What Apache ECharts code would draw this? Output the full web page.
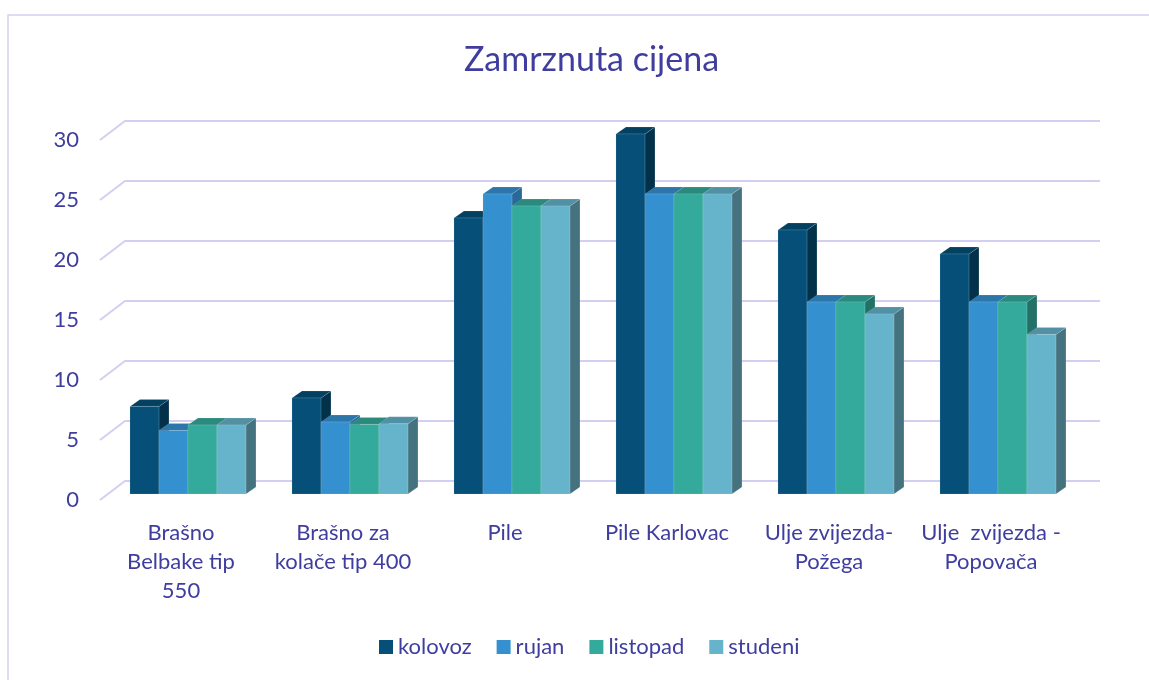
<!DOCTYPE html>
<html>
<head>
<meta charset="utf-8">
<script src="https://cdn.jsdelivr.net/npm/echarts@6/dist/echarts.min.js"></script>
<style>
  html, body { margin: 0; padding: 0; background: #fff; }
  #chart { width: 1149px; height: 680px; }
</style>
</head>
<body>
<div id="chart"></div>
<script>
// podaci
var categories = ['Brašno\nBelbake tip\n550', 'Brašno za\nkolače tip 400', 'Pile', 'Pile Karlovac', 'Ulje zvijezda-\nPožega', 'Ulje  zvijezda -\nPopovača'];
var seriesNames = ['kolovoz', 'rujan', 'listopad', 'studeni'];
var kolovoz = [7.3, 8, 23, 30, 22, 20];
var rujan = [5.3, 6, 25, 25, 16, 16];
var listopad = [5.75, 5.8, 24, 25, 16, 16];
var studeni = [5.75, 5.85, 24, 25, 15, 13.3];
var yTicks = [0, 5, 10, 15, 20, 25, 30];

var TEXT = '#3f3d9e';
var GRID = '#d3cff2';
// boje: prednja, gornja, bočna strana
var COLORS = [
    ['#054f78', '#04405f', '#03314a'],
    ['#3590d0', '#2c76aa', '#27699a'],
    ['#34aa9c', '#2a8a7e', '#227066'],
    ['#66b3cc', '#5290a4', '#44737f']
];
var DX = 10, DY = 7;      // dubina stupca
var WALL_DX = 25, WALL_DY = 19;  // dubina zida

function wallSeries() {
    return {
        type: 'custom',
        silent: true,
        z: 1,
        data: yTicks.map(function(t) { return [0, t]; }),
        renderItem: function(params, api) {
            var p = api.coord([0, api.value(1)]);
            var band = api.size([1, 0])[0];
            var left = p[0] - band / 2;
            var right = left + band * categories.length;
            return {
                type: 'polyline',
                shape: { points: [[left, p[1]], [left + WALL_DX, p[1] - WALL_DY], [right + WALL_DX + 3, p[1] - WALL_DY]] },
                style: { stroke: GRID, lineWidth: 2, fill: null }
            };
        }
    };
}

function barSeries(name, values, idx) {
    var c = COLORS[idx];
    return {
        name: name,
        type: 'custom',
        z: 2,
        itemStyle: { color: c[0] },
        data: values.map(function(v, i) { return [i, v]; }),
        renderItem: function(params, api) {
            var cat = api.value(0), v = api.value(1);
            var base = api.coord([cat, 0]);
            var top = api.coord([cat, v]);
            var band = api.size([1, 0])[0];
            var w = band * 0.179;
            var x0 = base[0] - band * 0.315 + idx * w;
            var yb = base[1] - 6, yt = top[1] - 6;
            var edge = 'rgba(255,255,255,0.25)';
            return {
                type: 'group',
                children: [{
                    type: 'polygon',
                    shape: { points: [[x0 + w, yt], [x0 + w + DX, yt - DY], [x0 + w + DX, yb - DY], [x0 + w, yb]] },
                    style: { fill: c[2], stroke: edge, lineWidth: 0.5 }
                }, {
                    type: 'polygon',
                    shape: { points: [[x0, yt], [x0 + DX, yt - DY], [x0 + w + DX, yt - DY], [x0 + w, yt]] },
                    style: { fill: c[1], stroke: edge, lineWidth: 0.5 }
                }, {
                    type: 'rect',
                    shape: { x: x0, y: yt, width: w, height: yb - yt },
                    style: { fill: c[0], stroke: edge, lineWidth: 0.5 }
                }]
            };
        }
    };
}

var chart = echarts.init(document.getElementById('chart'));
var font = 'Lato, "Open Sans", sans-serif';
chart.setOption({
    backgroundColor: '#fff',
    textStyle: { fontFamily: font },
    title: {
        text: 'Zamrznuta cijena',
        left: 459,
        top: 38,
        textStyle: { color: TEXT, fontSize: 34, fontWeight: 'normal', fontFamily: font }
    },
    legend: {
        data: seriesNames,
        bottom: 17,
        left: 374,
        icon: 'rect',
        itemWidth: 14,
        itemHeight: 14,
        itemGap: 25,
        textStyle: { color: TEXT, fontSize: 22, fontFamily: font }
    },
    graphic: [{
        type: 'rect',
        silent: true,
        shape: { x: 8, y: 15, width: 1200, height: 720 },
        style: { fill: null, stroke: GRID, lineWidth: 1.5 }
    }],
    grid: { left: 100, right: 77, top: 140, bottom: 180 },
    xAxis: {
        type: 'category',
        data: categories,
        axisLine: { show: false },
        axisTick: { show: false },
        axisLabel: { color: TEXT, fontSize: 22, lineHeight: 29, margin: 18, interval: 0, fontFamily: font }
    },
    yAxis: {
        type: 'value',
        min: 0,
        max: 30,
        interval: 5,
        axisLine: { show: false },
        axisTick: { show: false },
        splitLine: { show: false },
        axisLabel: { color: TEXT, fontSize: 22, margin: 21, fontFamily: font }
    },
    series: [wallSeries(),
        barSeries('kolovoz', kolovoz, 0),
        barSeries('rujan', rujan, 1),
        barSeries('listopad', listopad, 2),
        barSeries('studeni', studeni, 3)]
});
</script>
</body>
</html>
